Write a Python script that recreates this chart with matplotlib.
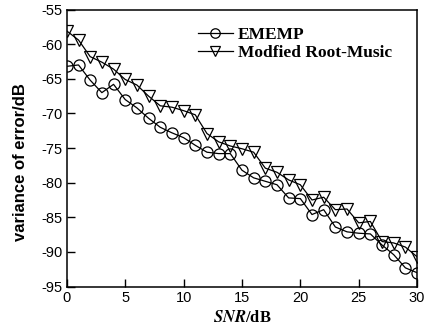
import matplotlib
matplotlib.use('Agg')
import matplotlib.pyplot as plt
import numpy as np

plt.rcParams['axes.unicode_minus'] = False
plt.rcParams['mathtext.fontset'] = 'stix'

# SNR values (dB)
snr = np.arange(0, 31)

# EMEMP variance of error (dB)
ememp = [-63.2, -63.0, -65.2, -67.0, -65.8, -68.0, -69.2, -70.7, -72.0, -72.8,
         -73.5, -74.6, -75.6, -75.8, -75.8, -78.2, -79.3, -79.8, -80.3, -82.2,
         -82.3, -84.6, -83.9, -86.4, -87.1, -87.3, -87.4, -89.0, -90.4, -92.3,
         -93.0]

# Modified Root-Music variance of error (dB)
root_music = [-58.1, -59.4, -61.8, -62.6, -63.6, -65.1, -65.9, -67.5, -68.9, -69.1,
              -69.6, -70.2, -72.9, -74.1, -74.7, -75.1, -75.6, -77.9, -78.5, -79.6,
              -80.3, -82.5, -82.1, -83.9, -83.8, -85.8, -85.6, -88.5, -88.7, -89.3,
              -90.7]

series_labels = ['EMEMP', 'Modfied Root-Music']
xticks = [0, 5, 10, 15, 20, 25, 30]
yticks = [-95, -90, -85, -80, -75, -70, -65, -60, -55]

fig = plt.figure(figsize=(4.34, 3.29), dpi=100)
ax = fig.add_axes([0.154, 0.129, 0.807, 0.842])

ax.plot(snr, ememp, color='black', lw=0.9, marker='o', ms=8,
        mfc='none', mec='black', mew=0.9, label=series_labels[0])
ax.plot(snr, root_music, color='black', lw=0.9, marker='v', ms=8.5,
        mfc='none', mec='black', mew=0.9, label=series_labels[1])

ax.set_xlim(0, 30)
ax.set_ylim(-95, -55)
ax.set_xticks(xticks)
ax.set_yticks(yticks)
ax.tick_params(direction='in', length=6, width=1, labelsize=10.5, pad=3)
for lab in ax.get_xticklabels() + ax.get_yticklabels():
    lab.set_family('Liberation Sans')
for sp in ax.spines.values():
    sp.set_linewidth(1.1)

ax.set_xlabel(r'$\mathbfit{SNR}$' + '/dB', family='Liberation Serif',
              fontweight='bold', fontsize=12, labelpad=4)
ax.set_ylabel('variance of error/dB', family='Liberation Sans',
              fontweight='bold', fontsize=12)
# the label sits a little below the middle of the axis in the original
ax.yaxis.set_label_coords(-0.11, 0.45)

leg = ax.legend(loc='upper left', bbox_to_anchor=(0.33, 0.995), frameon=False,
                prop={'family': 'Liberation Serif', 'weight': 'bold', 'size': 12.5},
                handlelength=2.0, handletextpad=0.3, labelspacing=0.15,
                markerscale=0.85)

fig.savefig('out.png', dpi=100)
